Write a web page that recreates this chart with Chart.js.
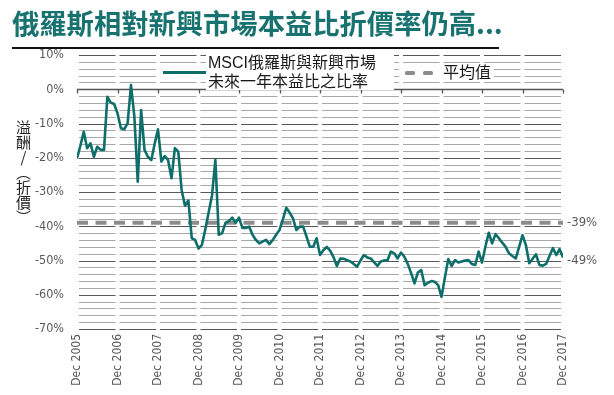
<!DOCTYPE html>
<html>
<head>
<meta charset="utf-8">
<script src="https://cdn.jsdelivr.net/npm/chart.js@4.4.1/dist/chart.umd.min.js"></script>
<style>
  html, body { margin: 0; padding: 0; background: #fff; }
  #wrap { position: relative; width: 614px; height: 395px; overflow: hidden; }
  #c { position: absolute; left: 0; top: 0; }
  .ov { position: absolute; font-family: "Liberation Sans", "Noto Sans CJK TC", sans-serif; color: #1a1a1a; }
  #title { left: 12px; top: 5px; font-family: "Noto Sans CJK TC", sans-serif; font-weight: bold; font-size: 27.3px; line-height: 34px; color: #18726f; white-space: nowrap; }
  #uline { left: 12px; top: 47px; width: 487px; height: 2px; background: #111; }
  #ytitle { left: 14px; top: 120px; writing-mode: vertical-rl; font-family: "Noto Sans CJK TC", sans-serif; font-size: 15px; line-height: 18px; color: #222; }
  #ytitle .up { text-orientation: upright; }
  .wbox { background: #fff; }
  #leg1box { left: 206px; top: 54px; width: 188px; height: 36px; }
  #leg1sampbox { left: 158px; top: 66px; width: 48px; height: 12px; }
  #leg1samp { left: 163px; top: 71px; width: 43px; height: 3px; background: #0e6f6a; }
  #leg1txt { left: 208px; top: 53px; font-size: 16px; line-height: 19px; white-space: nowrap; }
  #leg2box { left: 401px; top: 65px; width: 93px; height: 16px; }
  .dash { position: absolute; top: 70.5px; width: 10px; height: 4px; background: #8c8c8c; border-radius: 1.5px; }
  #leg2txt { left: 443px; top: 62px; font-size: 16px; line-height: 19px; white-space: nowrap; font-family: "Noto Sans CJK TC", sans-serif; }
</style>
</head>
<body>
<div id="wrap">
  <canvas id="c" width="614" height="395"></canvas>
  <div class="ov" id="title">俄羅斯相對新興市場本益比折價率仍高...</div>
  <div class="ov" id="uline"></div>
  <div class="ov" id="ytitle">溢酬<span class="up">/</span>（折價）</div>
  <div class="ov wbox" id="leg1box"></div>
  <div class="ov wbox" id="leg1sampbox"></div>
  <div class="ov" id="leg1samp"></div>
  <div class="ov" id="leg1txt">MSCI俄羅斯與新興市場<br>未來一年本益比之比率</div>
  <div class="ov wbox" id="leg2box"></div>
  <div class="dash" style="left:405px"></div>
  <div class="dash" style="left:423px"></div>
  <div class="ov" id="leg2txt">平均值</div>
</div>
<script>
// ---- data (monthly, Dec 2005 .. Dec 2017) ----
const xTickLabels = ['Dec 2005','Dec 2006','Dec 2007','Dec 2008','Dec 2009','Dec 2010','Dec 2011','Dec 2012','Dec 2013','Dec 2014','Dec 2015','Dec 2016','Dec 2017'];
const yTickValues = [10, 0, -10, -20, -30, -40, -50, -60, -70];
const ratio2006 = [-20.2, -16.5, -12.4, -17.2, -15.8, -19.7, -16.8, -17.7, -17.7, -2.2, -3.9, -4.3, -7.0];
const ratio2007 = [-11.4, -11.7, -9.9, 1.2, -8.0, -27.0, -6.1, -17.7, -19.7, -20.7, -16.0, -11.7];
const ratio2008 = [-21.1, -19.5, -20.7, -26.0, -17.2, -18.2, -29.4, -34.0, -32.5, -43.5, -44.0, -46.5];
const ratio2009 = [-45.5, -41.0, -36.0, -31.0, -20.6, -42.5, -42.0, -39.0, -38.5, -37.5, -39.0, -37.5];
const ratio2010 = [-40.5, -40.5, -40.1, -42.5, -44.0, -45.0, -44.5, -44.0, -45.2, -44.0, -42.5, -41.1];
const ratio2011 = [-38.0, -34.6, -36.0, -37.7, -41.1, -40.1, -40.1, -43.0, -46.0, -46.0, -43.5, -48.4];
const ratio2012 = [-47.0, -46.0, -47.1, -49.0, -51.6, -49.4, -49.5, -49.9, -50.3, -51.0, -51.8, -50.0];
const ratio2013 = [-48.4, -49.1, -49.4, -50.5, -51.6, -50.3, -50.0, -49.9, -47.4, -47.9, -49.4, -47.7];
const ratio2014 = [-48.9, -51.0, -53.7, -56.7, -53.5, -52.8, -57.2, -56.5, -56.0, -56.2, -57.2, -60.6];
const ratio2015 = [-55.0, -49.6, -51.6, -49.9, -50.6, -50.3, -50.0, -49.9, -51.0, -51.3, -47.4, -50.6];
const ratio2016 = [-46.0, -41.9, -45.0, -42.3, -43.5, -44.8, -46.0, -47.9, -48.7, -49.4, -46.0, -42.6];
const ratio2017 = [-45.5, -50.8, -49.5, -48.2, -51.3, -51.5, -51.0, -48.7, -46.4, -48.4, -46.7, -49.1];
const ratioValues = [].concat(ratio2006, ratio2007, ratio2008, ratio2009, ratio2010, ratio2011,
  ratio2012, ratio2013, ratio2014, ratio2015, ratio2016, ratio2017);
const averageValue = -39;
const endLabels = [{ text: '-39%', value: -39 }, { text: '-49%', value: -50 }];
const seriesNames = ['MSCI俄羅斯與新興市場未來一年本益比之比率', '平均值'];

const lineColor = '#0e6f6a';
const majorGrid = '#575757';
const minorGrid = '#a8a8a8';
const narrowFamily = "'Liberation Sans Narrow', 'Arial Narrow', 'DejaVu Sans Condensed', sans-serif";
const yTickFont = { family: narrowFamily, size: 12.5 };
const xTickFont = { family: narrowFamily, size: 12 };

const gridPlugin = {
  id: 'segGrid',
  beforeDatasetsDraw(chart) {
    const { ctx } = chart;
    const xs = chart.scales.x, ys = chart.scales.y;
    const nYears = xTickLabels.length - 1;
    ctx.save();
    ctx.lineWidth = 1;
    for (let v = -70; v <= 10; v += 2) {
      if (v === 0) continue;
      const y = Math.round(ys.getPixelForValue(v)) + 0.5;
      ctx.strokeStyle = (v % 10 === 0) ? majorGrid : minorGrid;
      ctx.beginPath();
      for (let k = 0; k < nYears; k++) {
        const x0 = xs.getPixelForValue(k * 12) + 2;
        const x1 = xs.getPixelForValue((k + 1) * 12) - 2;
        ctx.moveTo(x0, y); ctx.lineTo(x1, y);
      }
      ctx.stroke();
    }
    // zero axis with ticks
    const y0 = Math.round(ys.getPixelForValue(0)) + 0.5;
    ctx.strokeStyle = '#555';
    ctx.lineWidth = 1.3;
    ctx.beginPath();
    ctx.moveTo(xs.getPixelForValue(0), y0);
    ctx.lineTo(xs.getPixelForValue(nYears * 12), y0);
    for (let k = 0; k <= nYears; k++) {
      const x = Math.round(xs.getPixelForValue(k * 12)) + 0.5;
      ctx.moveTo(x, y0); ctx.lineTo(x, y0 + 4);
    }
    ctx.stroke();
    ctx.restore();
  },
  afterDraw(chart) {
    const { ctx, chartArea } = chart;
    const ys = chart.scales.y;
    ctx.save();
    ctx.fillStyle = '#595959';
    ctx.font = "13px " + narrowFamily;
    ctx.textAlign = 'left';
    ctx.textBaseline = 'middle';
    endLabels.forEach(l => ctx.fillText(l.text, chartArea.right + 4, ys.getPixelForValue(l.value)));
    ctx.restore();
  }
};

new Chart(document.getElementById('c'), {
  type: 'line',
  data: {
    datasets: [
      {
        label: seriesNames[1],
        data: ratioValues.map((v, i) => ({ x: i, y: averageValue })),
        borderColor: '#8c8c8c',
        borderWidth: 4,
        borderDash: [11, 7.5],
        borderCapStyle: 'butt',
        pointRadius: 0,
        order: 2
      },
      {
        label: seriesNames[0],
        data: ratioValues.map((v, i) => ({ x: i, y: v })),
        borderColor: lineColor,
        borderWidth: 2.6,
        pointRadius: 0,
        tension: 0,
        borderJoinStyle: 'round',
        order: 1
      }
    ]
  },
  options: {
    responsive: false,
    animation: false,
    devicePixelRatio: 1,
    layout: { padding: { top: 55, right: 51, left: 0, bottom: 0 } },
    plugins: { legend: { display: false }, tooltip: { enabled: false }, title: { display: false } },
    scales: {
      x: {
        type: 'linear',
        min: 0,
        max: (xTickLabels.length - 1) * 12,
        afterBuildTicks(scale) {
          scale.ticks = xTickLabels.map((t, i) => ({ value: i * 12 }));
        },
        ticks: {
          autoSkip: false,
          maxRotation: 90,
          minRotation: 90,
          padding: 5,
          color: '#595959',
          font: xTickFont,
          callback: (v) => xTickLabels[Math.round(v / 12)]
        },
        grid: { display: false, drawTicks: false },
        border: { display: false },
        afterFit(scale) { scale.height = 66; }
      },
      y: {
        min: -70,
        max: 10,
        afterBuildTicks(scale) {
          scale.ticks = yTickValues.map(v => ({ value: v }));
        },
        ticks: {
          padding: 13,
          color: '#595959',
          font: yTickFont,
          callback: (v) => v + '%'
        },
        grid: { display: false, drawTicks: false },
        border: { display: false },
        afterFit(scale) { scale.width = 77; }
      }
    }
  },
  plugins: [gridPlugin]
});
</script>
</body>
</html>
